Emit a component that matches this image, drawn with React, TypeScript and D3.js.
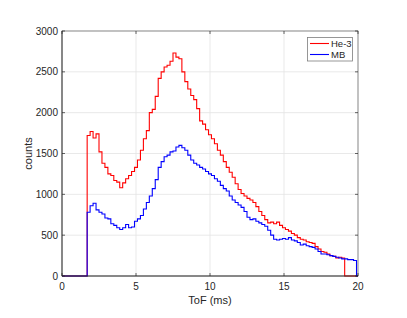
import React from "react";
import * as d3 from "d3";

// histogram: bins of 0.2 ms starting at 1.7 ms
const binStart = 1.7;
const binWidth = 0.2;

const he3Counts = [
  1720, 1770, 1690, 1740, 1520, 1380, 1330, 1250, 1230, 1170,
  1150, 1080, 1140, 1190, 1230, 1280, 1330, 1420, 1540, 1680,
  1780, 2000, 2040, 2200, 2420, 2500, 2560, 2580, 2630, 2730,
  2680, 2660, 2500, 2380, 2290, 2210, 2160, 2050, 1900, 1860,
  1790, 1730, 1680, 1620, 1540, 1480, 1400, 1330, 1270, 1210,
  1130, 1060, 1010, 980, 950, 930, 900, 850, 790, 740,
  690, 650, 660, 640, 660, 620, 590, 570, 550, 520,
  500, 470, 450, 440, 420, 410, 400, 360, 330, 300,
  290, 270, 250, 240, 220, 230, 220, 0, 0, 0, 0,
];

const mbCounts = [
  780, 860, 890, 810, 780, 760, 710, 700, 640, 620,
  590, 570, 590, 630, 590, 600, 670, 700, 740, 820,
  900, 980, 1070, 1180, 1330, 1400, 1460, 1480, 1520, 1530,
  1580, 1600, 1570, 1540, 1480, 1420, 1380, 1360, 1330, 1310,
  1280, 1250, 1230, 1190, 1160, 1110, 1070, 1040, 980, 930,
  900, 870, 840, 790, 720, 690, 700, 670, 650, 630,
  610, 560, 500, 450, 440, 450, 460, 450, 470, 440,
  430, 410, 380, 390, 370, 360, 350, 330, 300, 270,
  270, 260, 250, 240, 230, 220, 210, 210, 200, 200, 190,
];

const xTicks = [0, 5, 10, 15, 20];
const yTicks = [0, 500, 1000, 1500, 2000, 2500, 3000];

const seriesNames = ["He-3", "MB"];
const seriesColors = ["#ff0000", "#0000ff"];

const W = 407;
const H = 318;
const margin = { top: 31, right: 49, bottom: 42, left: 62 };
const axisColor = "#262626";
const gridColor = "#e3e3e3";
const font = "'Liberation Sans', Arial, sans-serif";

const App = () => {
  const x = d3.scaleLinear().domain([0, 20]).range([margin.left, W - margin.right]);
  const y = d3.scaleLinear().domain([0, 3000]).range([H - margin.bottom, margin.top]);

  const toPoints = (counts: number[]): [number, number][] => {
    const pts: [number, number][] = [[0, 0]];
    counts.forEach((c, i) => pts.push([binStart + i * binWidth, c]));
    pts.push([binStart + counts.length * binWidth, 0]);
    pts.push([20, 0]);
    return pts;
  };

  const line = d3
    .line<[number, number]>()
    .x((d) => x(d[0]))
    .y((d) => y(d[1]))
    .curve(d3.curveStepAfter);

  const x0 = x(0), x1 = x(20), y0 = y(0), y1 = y(3000);
  const tickLen = 3;

  return (
    <svg
      width={W}
      height={H}
      style={{ position: "absolute", left: 0, top: 0, background: "#fff" }}
      fontFamily={font}
    >
      <rect x={0} y={0} width={W} height={H} fill="#fff" />
      {/* grid */}
      {xTicks.map((t) => (
        <line key={"gx" + t} x1={x(t)} x2={x(t)} y1={y0} y2={y1} stroke={gridColor} strokeWidth={0.8} />
      ))}
      {yTicks.map((t) => (
        <line key={"gy" + t} x1={x0} x2={x1} y1={y(t)} y2={y(t)} stroke={gridColor} strokeWidth={0.8} />
      ))}

      {/* series */}
      <path d={line(toPoints(he3Counts)) ?? ""} fill="none" stroke={seriesColors[0]} strokeWidth={1.1} />
      <path d={line(toPoints(mbCounts)) ?? ""} fill="none" stroke={seriesColors[1]} strokeWidth={1.1} />

      {/* axes box */}
      <rect x={x0} y={y1} width={x1 - x0} height={y0 - y1} fill="none" stroke={axisColor} strokeOpacity={0.6} strokeWidth={0.8} />
      <line x1={x0} x2={x1} y1={y0} y2={y0} stroke={axisColor} strokeOpacity={0.75} />
      <line x1={x0} x2={x0} y1={y0} y2={y1} stroke={axisColor} strokeOpacity={0.75} />

      {xTicks.map((t) => (
        <g key={"tx" + t}>
          <line x1={x(t)} x2={x(t)} y1={y0} y2={y0 - tickLen} stroke={axisColor} strokeOpacity={0.7} />
          <line x1={x(t)} x2={x(t)} y1={y1} y2={y1 + tickLen} stroke={axisColor} strokeOpacity={0.7} />
          <text x={x(t)} y={y0 + 14} textAnchor="middle" fontSize={10} fill={axisColor}>
            {t}
          </text>
        </g>
      ))}
      {yTicks.map((t) => (
        <g key={"ty" + t}>
          <line x1={x0} x2={x0 + tickLen} y1={y(t)} y2={y(t)} stroke={axisColor} strokeOpacity={0.7} />
          <line x1={x1} x2={x1 - tickLen} y1={y(t)} y2={y(t)} stroke={axisColor} strokeOpacity={0.7} />
          <text x={x0 - 4} y={y(t) + 3.5} textAnchor="end" fontSize={10} fill={axisColor}>
            {t}
          </text>
        </g>
      ))}

      {/* axis labels */}
      <text x={(x0 + x1) / 2} y={304} textAnchor="middle" fontSize={11} fill={axisColor}>
        ToF (ms)
      </text>
      <text
        transform={`translate(32,${(y0 + y1) / 2}) rotate(-90)`}
        textAnchor="middle"
        fontSize={11}
        fill={axisColor}
      >
        counts
      </text>

      {/* legend */}
      <g>
        <rect x={307.5} y={37.5} width={45} height={23.5} fill="#fff" stroke={axisColor} strokeOpacity={0.6} strokeWidth={0.8} />
        {seriesNames.map((name, i) => (
          <g key={name}>
            <line x1={310} x2={329} y1={43.5 + i * 11} y2={43.5 + i * 11} stroke={seriesColors[i]} strokeWidth={1.1} />
            <text x={331} y={47 + i * 11} fontSize={9.5} fill={axisColor}>
              {name}
            </text>
          </g>
        ))}
      </g>
    </svg>
  );
};

export default App;
